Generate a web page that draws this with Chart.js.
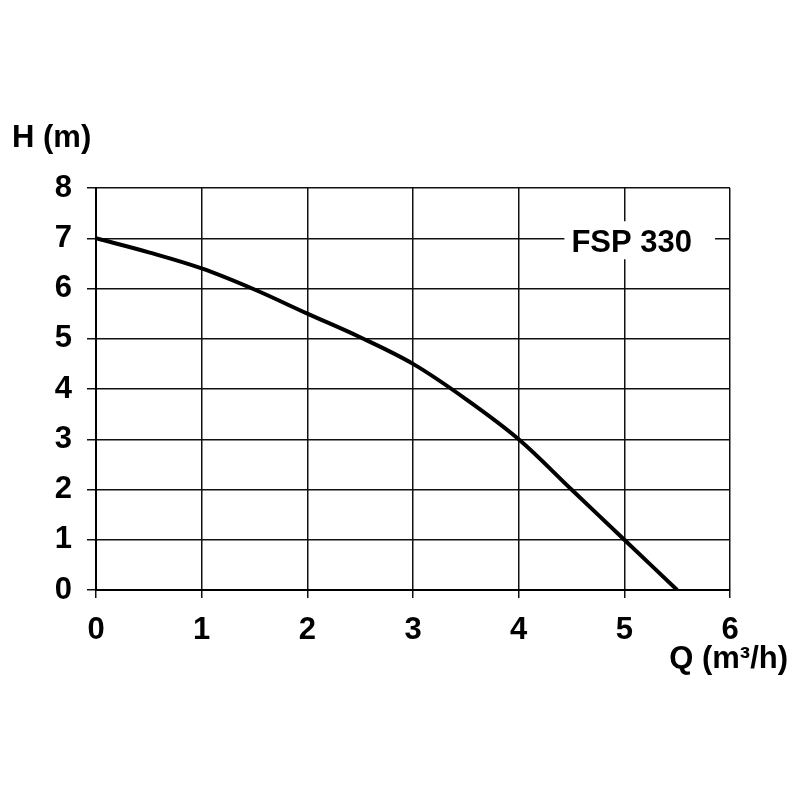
<!DOCTYPE html>
<html>
<head>
<meta charset="utf-8">
<script src="https://cdn.jsdelivr.net/npm/chart.js@4.4.0/dist/chart.umd.min.js"></script>
<style>
  html, body { margin: 0; padding: 0; background: #fff; }
  #wrap { width: 800px; height: 800px; }
</style>
</head>
<body>
<div id="wrap"><canvas id="myChart" width="800" height="800"></canvas></div>
<script>
// pump curve FSP 330
var flow = [0, 0.5, 1, 1.5, 2, 2.5, 3, 3.5, 4, 4.5, 5, 5.5];
var head = [7, 6.72, 6.4, 5.98, 5.5, 5.03, 4.5, 3.8, 3.0, 2.0, 1.0, 0];
var xTicks = [0, 1, 2, 3, 4, 5, 6];
var yTicks = [0, 1, 2, 3, 4, 5, 6, 7, 8];
var seriesName = 'FSP 330';
var xTitle = 'Q (m\u00b3/h)';
var yTitle = 'H (m)';

var fontFamily = '"Liberation Sans", Arial, sans-serif';
var fontSize = 31;

var points = flow.map(function (q, i) {
    return { x: q, y: head[i] };
});

// axis titles and the curve name box
const textPlugin = {
    id: 'texts',
    beforeDatasetsDraw: function (chart) {
        var ctx = chart.ctx;
        var x = chart.scales.x, y = chart.scales.y;
        var cx = x.getPixelForValue(5.07);
        var cy = y.getPixelForValue(7);
        ctx.save();
        ctx.font = 'bold ' + fontSize + 'px ' + fontFamily;
        var w = ctx.measureText(seriesName).width;
        ctx.fillStyle = '#fff';
        ctx.fillRect(cx - w / 2 - 7, cy - 17, w + 30, 38);
        ctx.fillStyle = '#000';
        ctx.textAlign = 'center';
        ctx.textBaseline = 'middle';
        ctx.fillText(seriesName, cx, cy + 5);
        ctx.restore();
    },
    afterDraw: function (chart) {
        var ctx = chart.ctx;
        var area = chart.chartArea;
        ctx.save();
        ctx.font = 'bold ' + fontSize + 'px ' + fontFamily;
        ctx.fillStyle = '#000';
        ctx.textBaseline = 'middle';
        ctx.textAlign = 'left';
        ctx.fillText(yTitle, area.left - 84, area.top - 50);
        ctx.textAlign = 'right';
        ctx.fillText(xTitle, area.right + 58, area.bottom + 69);
        ctx.restore();
    }
};

const ctx = document.getElementById('myChart').getContext('2d');
const myChart = new Chart(ctx, {
    type: 'line',
    data: {
        datasets: [{
            label: seriesName,
            data: points,
            borderColor: '#000',
            backgroundColor: '#000',
            borderWidth: 4,
            pointRadius: 0,
            tension: 0.35,
            fill: false
        }]
    },
    options: {
        responsive: false,
        animation: false,
        layout: {
            padding: { left: 0, right: 70, top: 188, bottom: 150 }
        },
        plugins: {
            legend: { display: false },
            tooltip: { enabled: false }
        },
        scales: {
            x: {
                type: 'linear',
                min: 0,
                max: 6,
                afterBuildTicks: function (axis) {
                    axis.ticks = xTicks.map(function (v) { return { value: v }; });
                },
                afterFit: function (axis) { axis.height = 60; },
                grid: {
                    color: '#111',
                    lineWidth: 1.5,
                    tickLength: 8
                },
                border: { color: '#000', width: 2 },
                ticks: {
                    color: '#000',
                    padding: 14,
                    maxRotation: 0,
                    font: { family: fontFamily, size: fontSize, weight: 'bold' }
                }
            },
            y: {
                type: 'linear',
                min: 0,
                max: 8,
                afterBuildTicks: function (axis) {
                    axis.ticks = yTicks.map(function (v) { return { value: v }; });
                },
                afterFit: function (axis) { axis.width = 96; },
                grid: {
                    color: '#111',
                    lineWidth: 1.5,
                    tickLength: 9
                },
                border: { color: '#000', width: 2 },
                ticks: {
                    color: '#000',
                    padding: 15,
                    font: { family: fontFamily, size: fontSize, weight: 'bold' }
                }
            }
        }
    },
    plugins: [textPlugin]
});
</script>
</body>
</html>
